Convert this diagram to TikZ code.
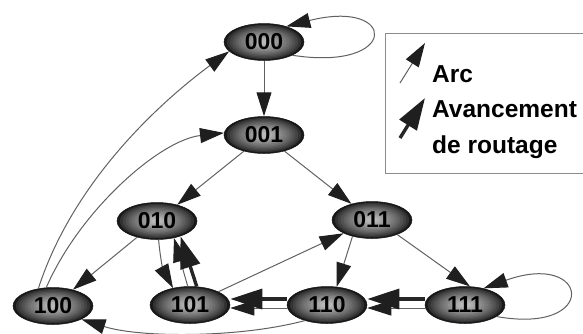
\documentclass[tikz,border=0pt]{standalone}
\usepackage{fontspec}
\setmainfont{Liberation Sans}
\usetikzlibrary{arrows.meta,shapes.geometric}
\begin{document}
\begin{tikzpicture}[x=1pt,y=-1pt,
  % state ellipse: dark rim, lighter core built from nested ellipses
  state/.style={ellipse, minimum width=80pt, minimum height=37pt, inner sep=0pt,
    draw=black!92, line width=0.5pt, fill=black!90,
    font=\bfseries\fontsize{23}{23}\selectfont, text=black,
    path picture={
      \foreach \k in {1,...,12}{
        \pgfmathsetmacro{\sc}{1-\k/14}
        \pgfmathsetmacro{\tone}{90-62*(\k/12)^0.75}
        \fill[black!\tone] (path picture bounding box.center)
          ellipse [x radius=\sc*40pt, y radius=\sc*18.5pt];
      }
    }},
  arcline/.style={draw=black!62, line width=1pt,
    -{Triangle[length=24pt,width=15pt,color=black!88]}},
  advline/.style={draw=black!85, line width=3.4pt,
    -{Triangle[length=32pt,width=20pt,color=black!88]}},
  legendtext/.style={anchor=base west, inner sep=0pt,
    font=\bfseries\fontsize{24.5}{24.5}\selectfont},
]
\useasboundingbox (0,0) rectangle (583,333);

% states
\node[state] (s000) at (264,42)  {000};
\node[state] (s001) at (264,135) {001};
\node[state] (s010) at (157,221) {010};
\node[state] (s011) at (372,220) {011};
\node[state] (s100) at (53,306)  {100};
\node[state] (s101) at (190,305) {101};
\node[state] (s110) at (327,305) {110};
\node[state] (s111) at (465,305) {111};

% arcs
\draw[arcline] (s000) -- (s001);
\draw[arcline] (s000.-25) .. controls (400,72) and (398,-2) .. (s000.35);
\draw[arcline] (s001) -- (s010);
\draw[arcline] (s001) -- (s011);
\draw[arcline] (s010) -- (s100);
\draw[arcline] (s010.-85) to[bend right=12] (s101.135);
\draw[arcline] (s101.97) -- (s010.-45);
\draw[arcline] (s101) -- (s011);
\draw[arcline] (s011.-140) -- (s110.62);
\draw[arcline] (s011.-30) -- (s111.75);
\draw[arcline] (s100.130) .. controls (75,175) and (170,95) .. (s000.195);
\draw[arcline] (s100.110) .. controls (80,210) and (160,140) .. (s001.177);
\draw[arcline] (s110.215) .. controls (240,338) and (140,338) .. (s100.-25);
\draw[arcline] (s111.-20) .. controls (600,335) and (590,250) .. (s111.42);
\draw[arcline] ([yshift=-3pt]s110.west) -- ([yshift=-3pt]s101.east);
\draw[arcline] ([yshift=-3pt]s111.west) -- ([yshift=-3pt]s110.east);

% routing progress
\draw[advline] (s101.70) -- (s010.-33);
\draw[advline] ([yshift=6pt]s110.west) -- ([yshift=6pt]s101.east);
\draw[advline] ([yshift=6pt]s111.west) -- ([yshift=6pt]s110.east);

% legend
\draw[draw=black!45, line width=1pt] (583,33) -- (385,33) -- (385,173) -- (583,173);
\coordinate (arcfrom) at (400,83);
\coordinate (arcto) at (425,43);
\coordinate (advfrom) at (400,138);
\coordinate (advto) at (425,98);
\draw[arcline] (arcfrom) -- (arcto);
\draw[advline] (advfrom) -- (advto);
\node[legendtext] (larc) at (432,82) {Arc};
\node[legendtext] (ladv) at (432,117) {Avancement};
\node[legendtext] (lrout) at (432,153) {de routage};
\end{tikzpicture}
\end{document}
